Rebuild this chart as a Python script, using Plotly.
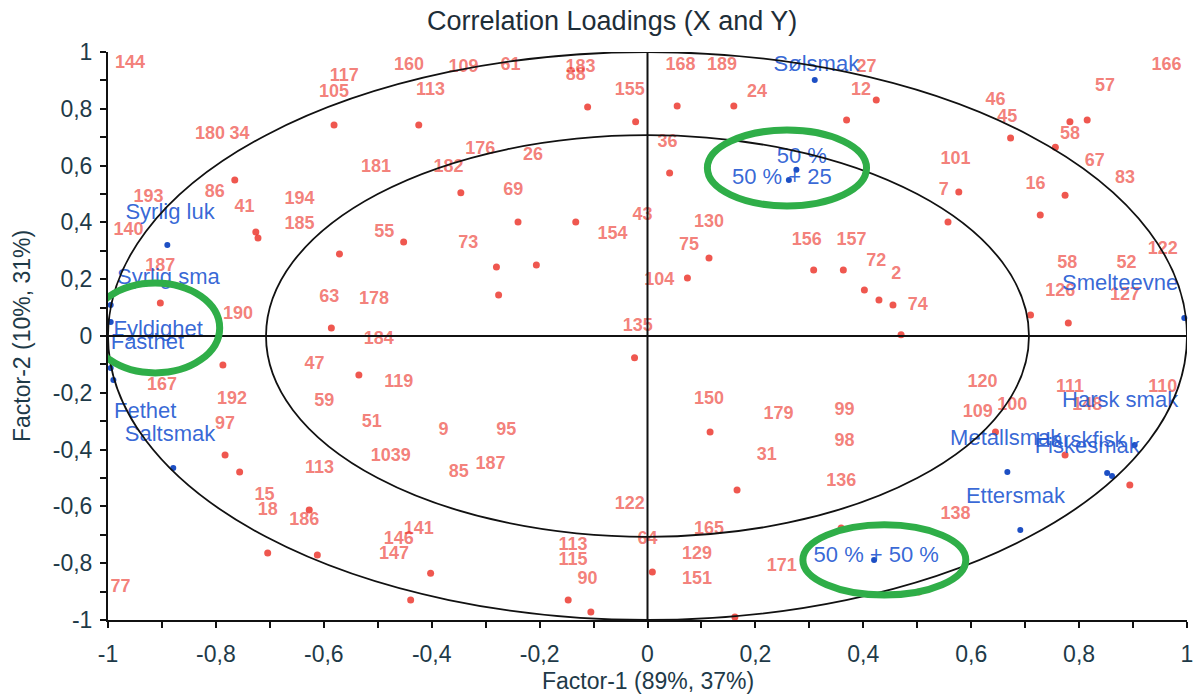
import numpy as np
import plotly.graph_objects as go

# ---- data ----
red_labels = ["144","117","105","160","109","61","113","183","88","155","168","189","27","12","24",
              "166","57","46","45","58","67","16","83","101","7","36","130","75","104","154","43",
              "156","157","72","2","74","135","180","34","181","176","182","26","69","194","185",
              "55","73","86","41","193","140","187","63","178","190","184","47","119","59","51",
              "9","95","1039","85","187","113","15","18","186","167","192","97","146","141","147",
              "77","113","115","90","122","64","165","129","151","171","150","179","31","99","98",
              "136","138","120","100","109","111","148","110","122","52","58","126","127"]
red_x = [-0.959,-0.562,-0.581,-0.442,-0.341,-0.254,-0.402,-0.124,-0.133,-0.033,0.061,0.138,0.406,0.396,0.203,
         0.962,0.848,0.645,0.667,0.783,0.829,0.719,0.885,0.571,0.549,0.037,0.114,0.077,0.022,-0.065,-0.009,
         0.295,0.378,0.424,0.461,0.501,-0.018,-0.811,-0.756,-0.503,-0.310,-0.369,-0.212,-0.249,-0.645,-0.645,
         -0.488,-0.332,-0.802,-0.747,-0.925,-0.962,-0.903,-0.590,-0.507,-0.759,-0.498,-0.617,-0.461,-0.599,-0.511,
         -0.378,-0.262,-0.476,-0.350,-0.291,-0.608,-0.710,-0.704,-0.636,-0.900,-0.770,-0.783,-0.461,-0.424,-0.470,
         -0.977,-0.138,-0.138,-0.111,-0.033,0.000,0.114,0.092,0.092,0.249,0.114,0.243,0.221,0.365,0.365,
         0.359,0.571,0.621,0.676,0.612,0.783,0.815,0.955,0.955,0.888,0.778,0.765,0.885]
red_y = [0.961,0.912,0.859,0.954,0.947,0.954,0.866,0.944,0.919,0.866,0.954,0.954,0.947,0.866,0.856,
         0.954,0.877,0.831,0.771,0.708,0.613,0.532,0.556,0.620,0.514,0.683,0.401,0.320,0.197,0.356,0.426,
         0.338,0.338,0.261,0.215,0.109,0.032,0.708,0.708,0.595,0.655,0.592,0.634,0.514,0.479,0.391,
         0.363,0.327,0.504,0.454,0.486,0.373,0.243,0.137,0.127,0.074,-0.014,-0.102,-0.165,-0.232,-0.303,
         -0.331,-0.331,-0.426,-0.482,-0.454,-0.465,-0.560,-0.613,-0.648,-0.173,-0.225,-0.313,-0.718,-0.683,-0.771,
         -0.884,-0.736,-0.789,-0.859,-0.595,-0.718,-0.683,-0.771,-0.859,-0.813,-0.225,-0.278,-0.419,-0.261,-0.373,
         -0.514,-0.630,-0.162,-0.243,-0.271,-0.180,-0.243,-0.180,0.303,0.257,0.257,0.155,0.144]

dot_x = [-0.581,-0.424,-0.111,-0.022,0.055,0.160,0.424,0.369,0.041,0.114,0.074,0.308,0.363,0.402,0.429,0.455,
         0.577,0.557,0.673,0.783,0.756,0.774,0.728,0.815,0.710,0.780,0.470,-0.133,-0.206,-0.276,-0.280,-0.240,
         -0.346,-0.452,-0.571,-0.726,-0.765,-0.722,-0.903,-0.586,-0.787,-0.783,-0.535,-0.756,-0.627,-0.704,-0.612,
         -0.402,-0.439,-0.147,-0.105,-0.024,0.009,0.116,0.166,0.162,0.503,0.359,0.645,0.774,0.894]
dot_y = [0.743,0.743,0.806,0.754,0.810,0.810,0.831,0.761,0.574,0.275,0.204,0.232,0.232,0.162,0.127,0.109,
         0.507,0.401,0.697,0.754,0.665,0.496,0.426,0.761,0.074,0.046,0.004,0.401,0.250,0.144,0.243,0.401,
         0.504,0.331,0.289,0.366,0.549,0.345,0.116,0.028,-0.102,-0.419,-0.137,-0.479,-0.613,-0.764,-0.771,
         -0.835,-0.930,-0.930,-0.972,-0.077,-0.831,-0.338,-0.542,-0.989,-0.901,-0.676,-0.338,-0.419,-0.525]

blue_labels = ["Sølsmak","Syrlig luk","Syrlig sma","Fyldighet","Fasthet","Fethet","Saltsmak",
               "Smelteevne","Harsk smak","Metallsmak","Harskfisk","Fiskesmak","Ettersmak",
               "50 %","50 % + 25","50 % + 50 %"]
# attribute loadings (dots)
blue_x = [0.310,-0.890,-0.995,-0.995,-0.995,-0.990,-0.879,0.995,0.903,0.667,0.861,0.852,0.691,0.276,0.262,0.420]
blue_y = [0.901,0.320,0.109,0.049,-0.113,-0.155,-0.465,0.063,-0.384,-0.479,-0.493,-0.482,-0.683,0.585,0.549,-0.789]
# where each attribute name is written
blue_tx = [0.313,-0.885,-0.888,-0.907,-0.927,-0.931,-0.885,0.876,0.876,0.664,0.802,0.815,0.682,0.286,0.249,0.424]
blue_ty = [0.951,0.433,0.204,0.021,-0.025,-0.271,-0.349,0.180,-0.232,-0.366,-0.373,-0.391,-0.570,0.630,0.556,-0.778]

tick_vals = [round(-1 + 0.1 * i, 1) for i in range(21)]
tick_text = ["-1","","-0,8","","-0,6","","-0,4","","-0,2","","0","","0,2","","0,4","","0,6","","0,8","","1"]

FONT = "Liberation Sans, Arial, sans-serif"
fig = go.Figure()

# unlabeled sample dots
fig.add_trace(go.Scatter(x=dot_x, y=dot_y, mode="markers",
                         marker=dict(size=7, color="rgba(235,45,35,0.8)"),
                         cliponaxis=False, hoverinfo="skip"))
# labeled samples
fig.add_trace(go.Scatter(x=red_x, y=red_y, mode="text", text=red_labels,
                         textfont=dict(family=FONT, size=18, weight="bold", color="rgba(235,45,35,0.62)"),
                         cliponaxis=False))
# attribute dots
fig.add_trace(go.Scatter(x=blue_x, y=blue_y, mode="markers",
                         marker=dict(size=6, color="#1d4fc4"), cliponaxis=False))
# attribute names
fig.add_trace(go.Scatter(x=blue_tx, y=blue_ty, mode="text", text=blue_labels,
                         textfont=dict(family=FONT, size=22, color="rgba(38,90,210,0.92)"),
                         cliponaxis=False))

shapes = []
for r in (1.0, np.sqrt(0.5)):
    shapes.append(dict(type="circle", xref="x", yref="y", x0=-r, x1=r, y0=-r, y1=r,
                       line=dict(color="#111", width=1.8)))
shapes.append(dict(type="line", xref="x", yref="y", x0=-1, x1=1, y0=0, y1=0, line=dict(color="#111", width=2)))
shapes.append(dict(type="line", xref="x", yref="y", x0=0, x1=0, y0=-1, y1=1, line=dict(color="#111", width=2)))
for (a, b, c, d) in [(0.111, 0.406, 0.458, 0.725), (-1.032, -0.793, -0.130, 0.187), (0.288, 0.590, -0.912, -0.665)]:
    shapes.append(dict(type="circle", xref="x", yref="y", x0=a, x1=b, y0=c, y1=d,
                       line=dict(color="#2fae48", width=7)))

axis_common = dict(range=[-1, 1], tickvals=tick_vals, ticktext=tick_text, ticks="outside",
                   ticklen=6, tickwidth=2, tickcolor="#111", showgrid=False, zeroline=False,
                   showline=True, linecolor="#111", linewidth=2,
                   tickfont=dict(family=FONT, size=23, color="#1e3a48"))

fig.update_layout(
    width=1203, height=694, showlegend=False,
    paper_bgcolor="white", plot_bgcolor="white",
    margin=dict(l=108, r=10, t=52, b=74),
    shapes=shapes,
    xaxis=dict(**axis_common, ticklabelstandoff=6),
    yaxis=dict(**axis_common, ticklabelstandoff=3),
    annotations=[
        dict(text="Correlation Loadings (X and Y)", xref="paper", yref="paper", x=0.467, y=1,
             yanchor="middle", yshift=31, showarrow=False,
             font=dict(family=FONT, size=27, color="#1e2e38")),
        dict(text="Factor-1 (89%, 37%)", xref="paper", yref="paper", x=0.5, y=0, yanchor="middle",
             yshift=-61, showarrow=False, font=dict(family=FONT, size=23, color="#1e3a48")),
        dict(text="Factor-2 (10%, 31%)", xref="paper", yref="paper", x=0, y=0.5, xanchor="center",
             xshift=-86, textangle=-90, showarrow=False, font=dict(family=FONT, size=23, color="#1e3a48")),
    ],
)

fig.write_html("out.html")
